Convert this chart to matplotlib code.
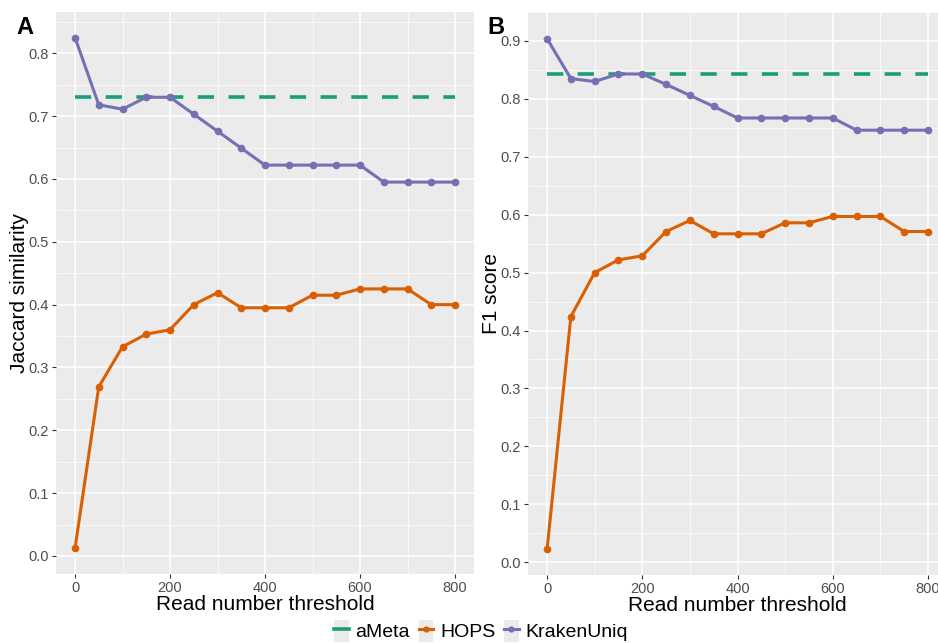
import matplotlib.pyplot as plt
from matplotlib.lines import Line2D
from matplotlib.patches import Patch

plt.rcParams['font.family'] = ['Liberation Sans', 'DejaVu Sans']

thresholds = [0, 50, 100, 150, 200, 250, 300, 350, 400, 450, 500, 550, 600, 650, 700, 750, 800]

# panel A: Jaccard similarity
jac_kraken = [0.825, 0.718, 0.711, 0.730, 0.730, 0.703, 0.676, 0.649, 0.622, 0.622,
              0.622, 0.622, 0.622, 0.595, 0.595, 0.595, 0.595]
jac_hops = [0.012, 0.269, 0.333, 0.353, 0.360, 0.400, 0.419, 0.395, 0.395, 0.395,
            0.415, 0.415, 0.425, 0.425, 0.425, 0.400, 0.400]
jac_ameta = 0.730

# panel B: F1 score
f1_kraken = [0.904, 0.835, 0.830, 0.843, 0.843, 0.825, 0.806, 0.787, 0.767, 0.767,
             0.767, 0.767, 0.767, 0.746, 0.746, 0.746, 0.746]
f1_hops = [0.022, 0.424, 0.500, 0.522, 0.529, 0.571, 0.590, 0.567, 0.567, 0.567,
           0.586, 0.586, 0.597, 0.597, 0.597, 0.571, 0.571]
f1_ameta = 0.843

jac_ticks = [0.0, 0.1, 0.2, 0.3, 0.4, 0.5, 0.6, 0.7, 0.8]
f1_ticks = [0.0, 0.1, 0.2, 0.3, 0.4, 0.5, 0.6, 0.7, 0.8, 0.9]
x_ticks = [0, 200, 400, 600, 800]

c_ameta = '#1B9E77'
c_hops = '#D95F02'
c_kraken = '#7570B3'

W, H = 938, 643
fig = plt.figure(figsize=(W / 100, H / 100), dpi=100)


def px(l, r, t, b):
    return [l / W, 1 - b / H, (r - l) / W, (b - t) / H]


def panel(ax, kraken, hops, ameta, yticks, ylabel):
    ax.set_facecolor('#EBEBEB')
    ax.plot(thresholds, [ameta] * len(thresholds), color=c_ameta, lw=2.6,
            dashes=(4.5, 4), zorder=3)
    ax.plot(thresholds, hops, color=c_hops, lw=2.2, marker='o', ms=4.5, zorder=4)
    ax.plot(thresholds, kraken, color=c_kraken, lw=2.2, marker='o', ms=4.5, zorder=4)

    allv = kraken + hops + [ameta]
    lo, hi = min(allv), max(allv)
    pad = (hi - lo) * 0.05
    ax.set_ylim(lo - pad, hi + pad)
    ax.set_xlim(-40, 840)

    ax.set_yticks(yticks)
    ax.set_yticklabels([f'{v:.1f}' for v in yticks])
    ax.set_yticks([v + 0.05 for v in yticks], minor=True)
    ax.set_xticks(x_ticks)
    ax.set_xticks([100, 300, 500, 700], minor=True)
    ax.grid(which='major', color='white', lw=1.1)
    ax.grid(which='minor', color='white', lw=0.5)
    ax.set_axisbelow(True)
    for s in ax.spines.values():
        s.set_visible(False)
    ax.tick_params(which='major', length=3, width=0.8, color='#333333',
                   labelcolor='#4D4D4D', labelsize=10.5, pad=2)
    ax.tick_params(which='minor', length=0)
    ax.set_xlabel('Read number threshold', fontsize=15, labelpad=0)
    ax.set_ylabel(ylabel, fontsize=15, labelpad=0)


axA = fig.add_axes(px(56, 474, 12, 574))
panel(axA, jac_kraken, jac_hops, jac_ameta, jac_ticks, 'Jaccard similarity')
axB = fig.add_axes(px(528, 947, 12, 575))
panel(axB, f1_kraken, f1_hops, f1_ameta, f1_ticks, 'F1 score')

fig.text(16 / W, 1 - 28 / H, 'A', fontsize=17, fontweight='bold', va='center', ha='left')
fig.text(487 / W, 1 - 28 / H, 'B', fontsize=17, fontweight='bold', va='center', ha='left')

key_bg = Patch(facecolor='#EBEBEB', edgecolor='none')
handles = [
    (key_bg, Line2D([], [], color=c_ameta, lw=2.6)),
    (key_bg, Line2D([], [], color=c_hops, lw=2.2, marker='o', ms=3.5)),
    (key_bg, Line2D([], [], color=c_kraken, lw=2.2, marker='o', ms=3.5)),
]
fig.legend(handles, ['aMeta', 'HOPS', 'KrakenUniq'], loc='center',
           bbox_to_anchor=(481 / W, 1 - 631 / H), ncol=3, frameon=False,
           fontsize=14, handlelength=0.75, handleheight=1.4, handletextpad=0.35,
           columnspacing=0.45, borderaxespad=0)

fig.savefig('out.png', dpi=100)
